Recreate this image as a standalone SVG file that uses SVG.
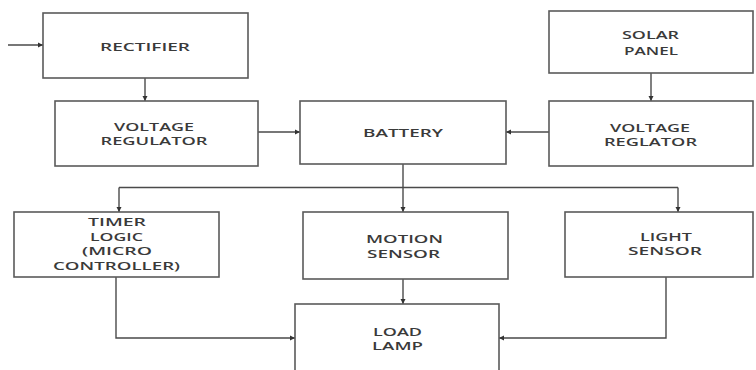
<svg xmlns="http://www.w3.org/2000/svg" width="756" height="370" viewBox="0 0 756 370">
<style>
.box{fill:#fff;stroke:#5a5a5a;stroke-width:1.6}
.ln{fill:none;stroke:#4a4a4a;stroke-width:1.4}
text{font-family:"Open Sans","DejaVu Sans",sans-serif;font-weight:600;font-size:11.5px;fill:#3a3a3a;text-anchor:middle}
</style>
<defs>
<marker id="ah" markerWidth="6" markerHeight="6" refX="5" refY="3" orient="auto" markerUnits="userSpaceOnUse">
<path d="M0,0.5 L5,3 L0,5.5 Z" fill="#333"/>
</marker>
</defs>
<rect width="756" height="370" fill="#fff"/>
<g id="connectors">
<path class="ln" d="M8,45 H43" marker-end="url(#ah)"/>
<path class="ln" d="M145,78 V101" marker-end="url(#ah)"/>
<path class="ln" d="M651,73 V101" marker-end="url(#ah)"/>
<path class="ln" d="M258,132 H300" marker-end="url(#ah)"/>
<path class="ln" d="M549,132 H506" marker-end="url(#ah)"/>
<path class="ln" d="M403,164 V212" marker-end="url(#ah)"/>
<path class="ln" d="M119,187.5 H678"/>
<path class="ln" d="M119,187.5 V212" marker-end="url(#ah)"/>
<path class="ln" d="M678,187.5 V212" marker-end="url(#ah)"/>
<path class="ln" d="M403,279 V304" marker-end="url(#ah)"/>
<path class="ln" d="M116,277 V338 H295" marker-end="url(#ah)"/>
<path class="ln" d="M666,277 V338 H499" marker-end="url(#ah)"/>
</g>
<g id="rectifier">
<rect class="box" x="43" y="13" width="205" height="65"/>
<text x="145" y="50.5" textLength="90" lengthAdjust="spacingAndGlyphs">RECTIFIER</text>
</g>
<g id="voltage-regulator-left">
<rect class="box" x="55" y="101" width="203" height="65"/>
<text x="154" y="131" textLength="80" lengthAdjust="spacingAndGlyphs">VOLTAGE</text>
<text x="154" y="145" textLength="107" lengthAdjust="spacingAndGlyphs">REGULATOR</text>
</g>
<g id="battery">
<rect class="box" x="300" y="101" width="206" height="63"/>
<text x="403" y="137" textLength="80" lengthAdjust="spacingAndGlyphs">BATTERY</text>
</g>
<g id="solar-panel">
<rect class="box" x="549" y="11" width="204" height="62"/>
<text x="650.5" y="39" textLength="57" lengthAdjust="spacingAndGlyphs">SOLAR</text>
<text x="651" y="55" textLength="54" lengthAdjust="spacingAndGlyphs">PANEL</text>
</g>
<g id="voltage-regulator-right">
<rect class="box" x="549" y="101" width="204" height="65"/>
<text x="650" y="132" textLength="80" lengthAdjust="spacingAndGlyphs">VOLTAGE</text>
<text x="650.5" y="146" textLength="93" lengthAdjust="spacingAndGlyphs">REGLATOR</text>
</g>
<g id="timer-logic">
<rect class="box" x="14" y="212" width="205" height="65"/>
<text x="117" y="226" textLength="58" lengthAdjust="spacingAndGlyphs">TIMER</text>
<text x="116.5" y="240.5" textLength="53" lengthAdjust="spacingAndGlyphs">LOGIC</text>
<text x="117" y="255" textLength="70" lengthAdjust="spacingAndGlyphs">(MICRO</text>
<text x="116.5" y="270" textLength="127" lengthAdjust="spacingAndGlyphs">CONTROLLER)</text>
</g>
<g id="motion-sensor">
<rect class="box" x="303" y="212" width="205" height="67"/>
<text x="404.5" y="243" textLength="77" lengthAdjust="spacingAndGlyphs">MOTION</text>
<text x="403.5" y="257.5" textLength="73" lengthAdjust="spacingAndGlyphs">SENSOR</text>
</g>
<g id="light-sensor">
<rect class="box" x="565" y="212" width="188" height="65"/>
<text x="666" y="241" textLength="52" lengthAdjust="spacingAndGlyphs">LIGHT</text>
<text x="665" y="255" textLength="74" lengthAdjust="spacingAndGlyphs">SENSOR</text>
</g>
<g id="load-lamp">
<rect class="box" x="295" y="304" width="204" height="80"/>
<text x="397.5" y="336" textLength="49" lengthAdjust="spacingAndGlyphs">LOAD</text>
<text x="397.5" y="350" textLength="51" lengthAdjust="spacingAndGlyphs">LAMP</text>
</g>
</svg>
